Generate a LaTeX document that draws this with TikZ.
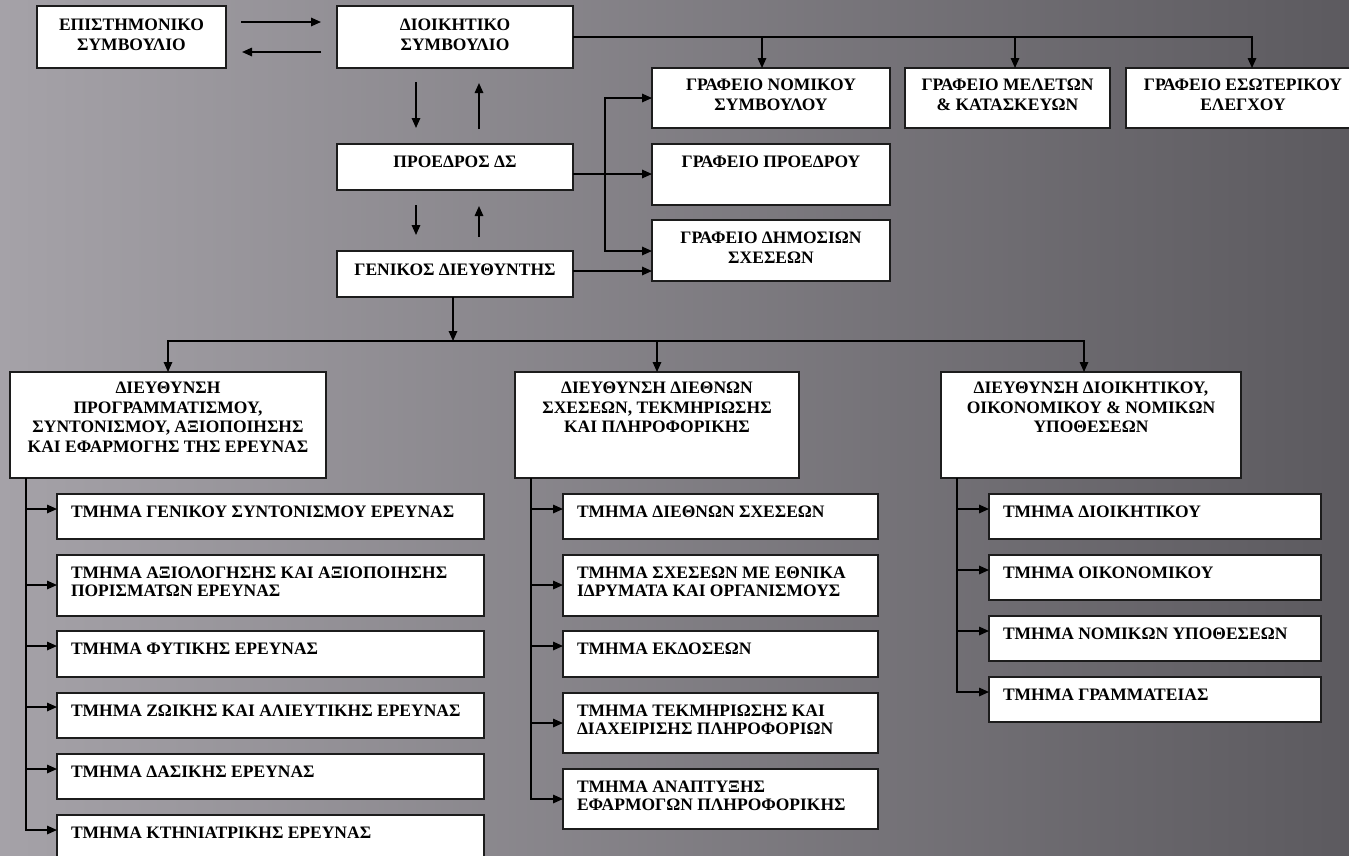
\documentclass[tikz,border=0pt]{standalone}
\usepackage{fontspec}
\setmainfont{Liberation Serif}
\usetikzlibrary{arrows.meta}
\definecolor{bgA}{HTML}{A5A2A8}
\definecolor{bgB}{HTML}{8A878D}
\definecolor{bgC}{HTML}{5C5A5F}
\definecolor{edge}{HTML}{1C1C1C}
\newcommand{\BX}[9]{\node[box] (#1) at (#2,#3) {\parbox[c][#5pt][t]{#4pt}{\fontsize{17.5pt}{#7pt}\selectfont\bfseries #8\rule{0pt}{#6pt}#9\par}};}
\newcommand{\LA}{\raggedright\leftskip=14pt\relax}
\tikzset{
  box/.style={draw=edge, line width=1.3pt, fill=white, inner sep=0pt, outer sep=0pt, anchor=north west},
  arr/.style={line width=1.6pt, draw=black, -{Triangle[length=10pt,width=8.5pt]}}
}
\begin{document}
\begin{tikzpicture}[x=1pt,y=-1pt]
\useasboundingbox (0,0) rectangle (1349,855);
\clip (0,0) rectangle (1349,855);
\shade[left color=bgA, middle color=bgB, right color=bgC] (0,0) rectangle (1349,855);

% top
\BX{epi}{37}{6}{189}{62}{24.5}{20}{\centering}{ΕΠΙΣΤΗΜΟΝΙΚΟ\\ΣΥΜΒΟΥΛΙΟ}
\BX{dio}{337}{6}{236}{62}{24.5}{20}{\centering}{ΔΙΟΙΚΗΤΙΚΟ\\ΣΥΜΒΟΥΛΙΟ}
\BX{pro}{337}{144}{236}{46}{23}{20}{\centering}{ΠΡΟΕΔΡΟΣ ΔΣ}
\BX{gen}{337}{251}{236}{46}{24}{20}{\centering}{ΓΕΝΙΚΟΣ ΔΙΕΥΘΥΝΤΗΣ}
\BX{nom}{652}{68}{238}{60}{22.7}{20}{\centering}{ΓΡΑΦΕΙΟ ΝΟΜΙΚΟΥ\\ΣΥΜΒΟΥΛΟΥ}
\BX{mel}{905}{68}{205}{60}{22.7}{20}{\centering}{ΓΡΑΦΕΙΟ ΜΕΛΕΤΩΝ\\\& ΚΑΤΑΣΚΕΥΩΝ}
\BX{eso}{1126}{68}{234}{60}{22.7}{20}{\centering}{ΓΡΑΦΕΙΟ ΕΣΩΤΕΡΙΚΟΥ\\ΕΛΕΓΧΟΥ}
\BX{gpr}{652}{144}{238}{61}{23}{20}{\centering}{ΓΡΑΦΕΙΟ ΠΡΟΕΔΡΟΥ}
\BX{gdi}{652}{220}{238}{61}{23}{20}{\centering}{ΓΡΑΦΕΙΟ ΔΗΜΟΣΙΩΝ\\ΣΧΕΣΕΩΝ}

% directorates
\BX{dl}{10}{372}{316}{106}{21.7}{19.6}{\centering}{ΔΙΕΥΘΥΝΣΗ\\ΠΡΟΓΡΑΜΜΑΤΙΣΜΟΥ,\\ΣΥΝΤΟΝΙΣΜΟΥ, ΑΞΙΟΠΟΙΗΣΗΣ\\ΚΑΙ ΕΦΑΡΜΟΓΗΣ ΤΗΣ ΕΡΕΥΝΑΣ}
\BX{dm}{515}{372}{284}{106}{21.7}{19.6}{\centering}{ΔΙΕΥΘΥΝΣΗ ΔΙΕΘΝΩΝ\\ΣΧΕΣΕΩΝ, ΤΕΚΜΗΡΙΩΣΗΣ\\ΚΑΙ ΠΛΗΡΟΦΟΡΙΚΗΣ}
\BX{dr}{941}{372}{300}{106}{21.7}{19.6}{\centering}{ΔΙΕΥΘΥΝΣΗ ΔΙΟΙΚΗΤΙΚΟΥ,\\ΟΙΚΟΝΟΜΙΚΟΥ \& ΝΟΜΙΚΩΝ\\ΥΠΟΘΕΣΕΩΝ}

% left departments
\BX{l1}{57}{494}{427}{45}{23.5}{18.3}{\LA}{ΤΜΗΜΑ ΓΕΝΙΚΟΥ ΣΥΝΤΟΝΙΣΜΟΥ ΕΡΕΥΝΑΣ}
\BX{l2}{57}{555}{427}{61}{23.5}{18.3}{\LA}{ΤΜΗΜΑ ΑΞΙΟΛΟΓΗΣΗΣ ΚΑΙ ΑΞΙΟΠΟΙΗΣΗΣ\\ΠΟΡΙΣΜΑΤΩΝ ΕΡΕΥΝΑΣ}
\BX{l3}{57}{631}{427}{46}{23.5}{18.3}{\LA}{ΤΜΗΜΑ ΦΥΤΙΚΗΣ ΕΡΕΥΝΑΣ}
\BX{l4}{57}{693}{427}{45}{23.5}{18.3}{\LA}{ΤΜΗΜΑ ΖΩΙΚΗΣ ΚΑΙ ΑΛΙΕΥΤΙΚΗΣ ΕΡΕΥΝΑΣ}
\BX{l5}{57}{754}{427}{45}{23.5}{18.3}{\LA}{ΤΜΗΜΑ ΔΑΣΙΚΗΣ ΕΡΕΥΝΑΣ}
\BX{l6}{57}{815}{427}{60}{23.5}{18.3}{\LA}{ΤΜΗΜΑ ΚΤΗΝΙΑΤΡΙΚΗΣ ΕΡΕΥΝΑΣ}

% middle departments
\BX{m1}{563}{494}{315}{45}{23.5}{18.3}{\LA}{ΤΜΗΜΑ ΔΙΕΘΝΩΝ ΣΧΕΣΕΩΝ}
\BX{m2}{563}{555}{315}{61}{23.5}{18.3}{\LA}{ΤΜΗΜΑ ΣΧΕΣΕΩΝ ΜΕ ΕΘΝΙΚΑ\\ΙΔΡΥΜΑΤΑ ΚΑΙ ΟΡΓΑΝΙΣΜΟΥΣ}
\BX{m3}{563}{631}{315}{46}{23.5}{18.3}{\LA}{ΤΜΗΜΑ ΕΚΔΟΣΕΩΝ}
\BX{m4}{563}{693}{315}{60}{23.5}{18.3}{\LA}{ΤΜΗΜΑ ΤΕΚΜΗΡΙΩΣΗΣ ΚΑΙ\\ΔΙΑΧΕΙΡΙΣΗΣ ΠΛΗΡΟΦΟΡΙΩΝ}
\BX{m5}{563}{769}{315}{60}{23.5}{18.3}{\LA}{ΤΜΗΜΑ ΑΝΑΠΤΥΞΗΣ\\ΕΦΑΡΜΟΓΩΝ ΠΛΗΡΟΦΟΡΙΚΗΣ}

% right departments
\BX{r1}{989}{494}{332}{45}{23.5}{18.3}{\LA}{ΤΜΗΜΑ ΔΙΟΙΚΗΤΙΚΟΥ}
\BX{r2}{989}{555}{332}{45}{23.5}{18.3}{\LA}{ΤΜΗΜΑ ΟΙΚΟΝΟΜΙΚΟΥ}
\BX{r3}{989}{616}{332}{45}{23.5}{18.3}{\LA}{ΤΜΗΜΑ ΝΟΜΙΚΩΝ ΥΠΟΘΕΣΕΩΝ}
\BX{r4}{989}{677}{332}{45}{23.5}{18.3}{\LA}{ΤΜΗΜΑ ΓΡΑΜΜΑΤΕΙΑΣ}

% top connectors
\draw[arr] ([shift={(15,16)}]epi.north east) -- ([shift={(-16,16)}]dio.north west);
\draw[arr] ([shift={(-16,46)}]dio.north west) -- ([shift={(16,46)}]epi.north east);
\draw[arr] ([shift={(79,14)}]dio.south west) -- ([shift={(79,-16)}]pro.north west);
\draw[arr] ([shift={(142,-15)}]pro.north west) -- ([shift={(142,15)}]dio.south west);
\draw[arr] ([shift={(79,15)}]pro.south west) -- ([shift={(79,-16)}]gen.north west);
\draw[arr] ([shift={(142,-14)}]gen.north west) -- ([shift={(142,16)}]pro.south west);

\coordinate (t1) at (762,37);
\coordinate (t2) at (1015,37);
\coordinate (t3) at (1252,37);
\draw[arr] (dio.east) -- (t3) -- (t3 |- eso.north);
\draw[arr] (t1) -- (t1 |- nom.north);
\draw[arr] (t2) -- (t2 |- mel.north);

\coordinate (gpa) at ([shift={(0,30)}]gpr.north west);
\draw[arr] (pro.east |- gpa) -- (gpa);
\coordinate (v) at ([shift={(-47,0)}]gpa);
\coordinate (gda) at ([shift={(0,31)}]gdi.north west);
\coordinate (gdb) at ([shift={(0,51)}]gdi.north west);
\draw[arr] (v) |- (nom.west);
\draw[arr] (v) |- (gda);
\draw[arr] (gen.east |- gdb) -- (gdb);

% to directorates
\coordinate (hm) at ([shift={(-2,44)}]gen.south);
\coordinate (hr) at (1084,341);
\draw[arr] ([shift={(-2,0)}]gen.south) -- (hm);
\draw[arr] (hm) -| (dl.north);
\draw[arr] (hm) -| (dr.north -| hr);
\draw[arr] (hm -| dm.north) -- (dm.north);

% left column
\coordinate (lv) at ([shift={(16,0)}]dl.south west);
\coordinate (l1a) at ([shift={(0,15)}]l1.north west);
\coordinate (l2a) at ([shift={(0,30)}]l2.north west);
\coordinate (l3a) at ([shift={(0,15)}]l3.north west);
\coordinate (l4a) at ([shift={(0,14)}]l4.north west);
\coordinate (l5a) at ([shift={(0,15)}]l5.north west);
\coordinate (l6a) at ([shift={(0,15)}]l6.north west);
\draw[arr] (lv) |- (l6a);
\draw[arr] (lv |- l1a) -- (l1a);
\draw[arr] (lv |- l2a) -- (l2a);
\draw[arr] (lv |- l3a) -- (l3a);
\draw[arr] (lv |- l4a) -- (l4a);
\draw[arr] (lv |- l5a) -- (l5a);

% middle column
\coordinate (mv) at ([shift={(16,0)}]dm.south west);
\coordinate (m1a) at ([shift={(0,15)}]m1.north west);
\coordinate (m2a) at ([shift={(0,30)}]m2.north west);
\coordinate (m3a) at ([shift={(0,15)}]m3.north west);
\coordinate (m4a) at ([shift={(0,30)}]m4.north west);
\coordinate (m5a) at ([shift={(0,30)}]m5.north west);
\draw[arr] (mv) |- (m5a);
\draw[arr] (mv |- m1a) -- (m1a);
\draw[arr] (mv |- m2a) -- (m2a);
\draw[arr] (mv |- m3a) -- (m3a);
\draw[arr] (mv |- m4a) -- (m4a);

% right column
\coordinate (rv) at ([shift={(16,0)}]dr.south west);
\coordinate (r1a) at ([shift={(0,15)}]r1.north west);
\coordinate (r2a) at ([shift={(0,15)}]r2.north west);
\coordinate (r3a) at ([shift={(0,15)}]r3.north west);
\coordinate (r4a) at ([shift={(0,15)}]r4.north west);
\draw[arr] (rv) |- (r4a);
\draw[arr] (rv |- r1a) -- (r1a);
\draw[arr] (rv |- r2a) -- (r2a);
\draw[arr] (rv |- r3a) -- (r3a);
\end{tikzpicture}
\end{document}
